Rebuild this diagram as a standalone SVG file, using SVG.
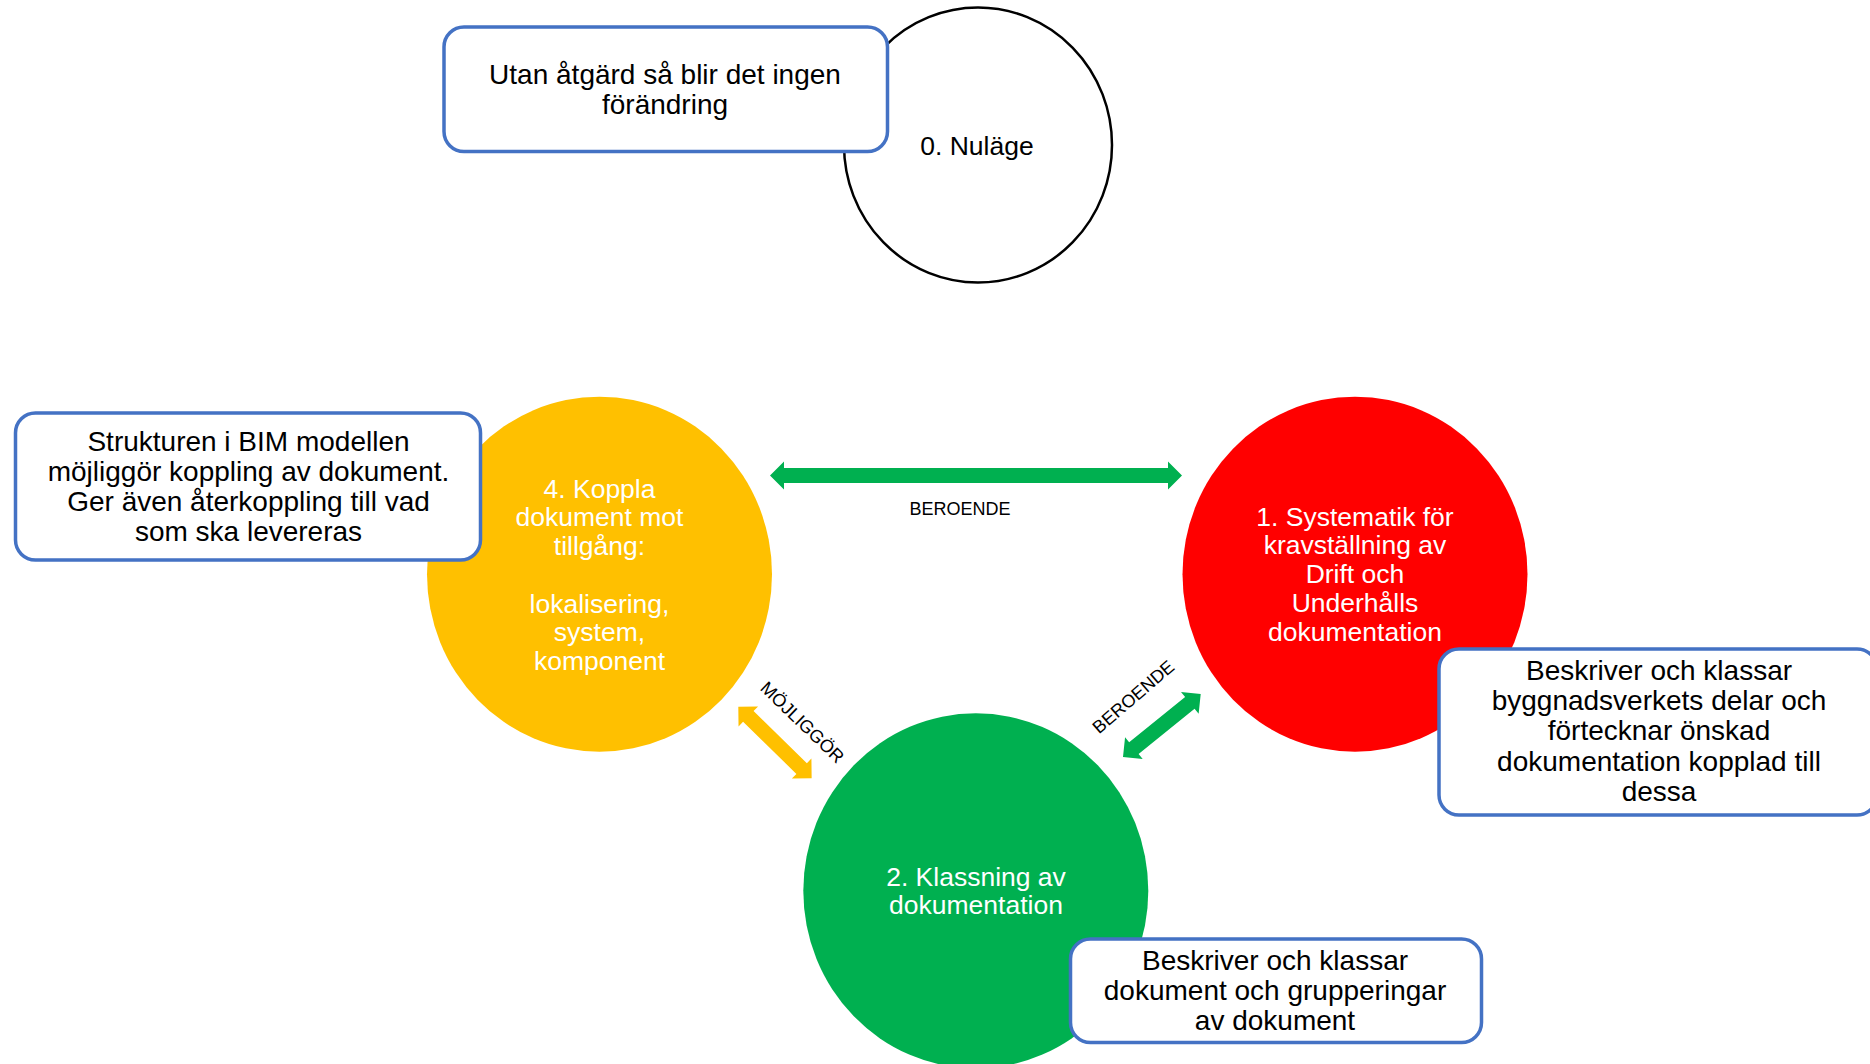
<svg xmlns="http://www.w3.org/2000/svg" width="1870" height="1064" viewBox="0 0 1870 1064">
<style>
.box{fill:#ffffff;stroke:#4472C4;stroke-width:3.5}
.bt{font-family:"Liberation Sans",Arial,sans-serif;font-size:28px;fill:#000;text-anchor:middle}
.ct{font-family:"Liberation Sans",Arial,sans-serif;font-size:26.5px;fill:#fff;text-anchor:middle}
.lbl{font-family:"Liberation Sans",Arial,sans-serif;font-size:18px;fill:#000;text-anchor:middle}
</style>
<rect width="1870" height="1064" fill="#ffffff"/>
<g id="connectors">
<path fill="#00B050" d="M770,475.5 L784,461.5 L784,468 L1168,468 L1168,461.5 L1182,475.5 L1168,489.5 L1168,483 L784,483 L784,489.5 Z"/>
<path fill="#FFC000" transform="translate(738.3,706.7) rotate(44.3)" d="M0,0 L14,-14 L14,-7.5 L88.5,-7.5 L88.5,-14 L102.5,0 L88.5,14 L88.5,7.5 L14,7.5 L14,14 Z"/>
<path fill="#00B050" transform="translate(1123,757) rotate(-39)" d="M0,0 L14,-14 L14,-7.5 L86,-7.5 L86,-14 L100,0 L86,14 L86,7.5 L14,7.5 L14,14 Z"/>
<text class="lbl" x="960" y="515">BEROENDE</text>
<text class="lbl" transform="translate(798,726.8) rotate(44)">MÖJLIGGÖR</text>
<text class="lbl" transform="translate(1137.4,701.5) rotate(-40.7)">BEROENDE</text>
</g>
<g id="node0">
<ellipse cx="978" cy="145" rx="134" ry="137.5" fill="#ffffff" stroke="#000" stroke-width="2.5"/>
<text class="bt" x="977" y="154.5" style="font-size:26.5px">0. Nuläge</text>
</g>
<g id="note0">
<rect class="box" x="444" y="27" width="443.5" height="124.5" rx="20"/>
<text class="bt" x="665" y="83.9">Utan åtgärd så blir det ingen</text>
<text class="bt" x="665" y="113.9">förändring</text>
</g>
<g id="node4">
<ellipse cx="599.5" cy="574.2" rx="172.5" ry="177.5" fill="#FFC000"/>
<text class="ct" x="599.5" y="497.9">4. Koppla</text>
<text class="ct" x="599.5" y="526.4">dokument mot</text>
<text class="ct" x="599.5" y="554.9">tillgång:</text>
<text class="ct" x="599.5" y="612.9">lokalisering,</text>
<text class="ct" x="599.5" y="641.4">system,</text>
<text class="ct" x="599.5" y="669.9">komponent</text>
</g>
<g id="note4">
<rect class="box" x="15.5" y="413" width="465" height="147" rx="20"/>
<text class="bt" x="248.5" y="450.5">Strukturen i BIM modellen</text>
<text class="bt" x="248.5" y="480.7">möjliggör koppling av dokument.</text>
<text class="bt" x="248.5" y="510.9">Ger även återkoppling till vad</text>
<text class="bt" x="248.5" y="541">som ska levereras</text>
</g>
<g id="node1">
<ellipse cx="1355" cy="574.2" rx="172.5" ry="177.5" fill="#FF0000"/>
<text class="ct" x="1355" y="525.5">1. Systematik för</text>
<text class="ct" x="1355" y="554.4">kravställning av</text>
<text class="ct" x="1355" y="583.3">Drift och</text>
<text class="ct" x="1355" y="612.2">Underhålls</text>
<text class="ct" x="1355" y="641.1">dokumentation</text>
</g>
<g id="note1">
<rect class="box" x="1439" y="649" width="438" height="166" rx="20"/>
<text class="bt" x="1659" y="679.7">Beskriver och klassar</text>
<text class="bt" x="1659" y="710">byggnadsverkets delar och</text>
<text class="bt" x="1659" y="740.3">förtecknar önskad</text>
<text class="bt" x="1659" y="770.6">dokumentation kopplad till</text>
<text class="bt" x="1659" y="800.9">dessa</text>
</g>
<g id="node2">
<ellipse cx="975.8" cy="890.8" rx="172.5" ry="177.5" fill="#00B050"/>
<text class="ct" x="976" y="885.5">2. Klassning av</text>
<text class="ct" x="976" y="914">dokumentation</text>
</g>
<g id="note2">
<rect class="box" x="1070.5" y="939" width="411" height="103.5" rx="20"/>
<text class="bt" x="1275" y="969.9">Beskriver och klassar</text>
<text class="bt" x="1275" y="999.9">dokument och grupperingar</text>
<text class="bt" x="1275" y="1029.7">av dokument</text>
</g>
</svg>
